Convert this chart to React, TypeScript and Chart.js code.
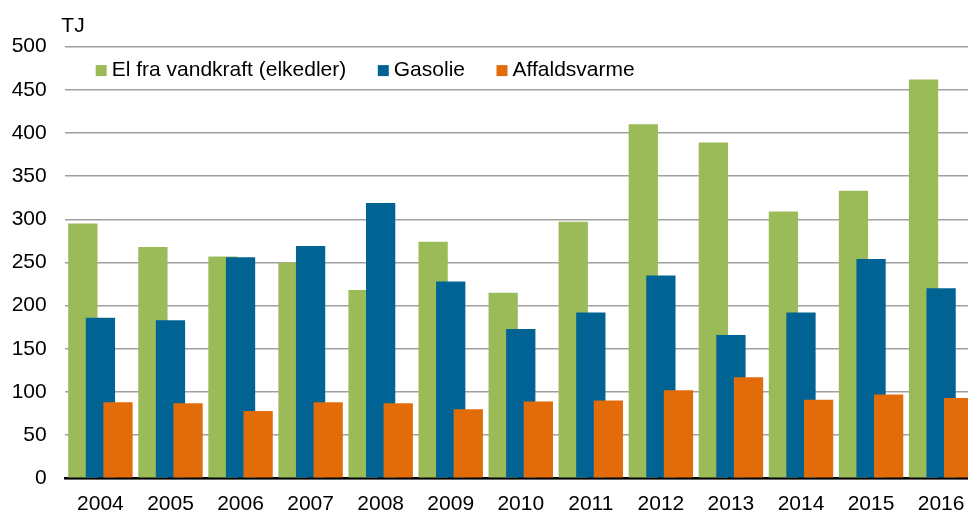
import React, { useEffect, useRef } from 'react';
import { Chart, registerables } from 'chart.js';

Chart.register(...registerables);

const years = ['2004', '2005', '2006', '2007', '2008', '2009', '2010', '2011', '2012', '2013', '2014', '2015', '2016'];
const elVandkraft = [295, 268, 257, 250, 218, 274, 215, 297, 410, 389, 309, 333, 462];
const gasolie = [186, 183, 256, 269, 319, 228, 173, 192, 235, 166, 192, 254, 220];
const affaldsvarme = [88, 87, 78, 88, 87, 80, 89, 90, 102, 117, 91, 97, 93];
const seriesLabels = ['El fra vandkraft (elkedler)', 'Gasolie', 'Affaldsvarme'];
const seriesColors = ['#9BBB59', '#006394', '#E36C0A'];
const unitLabel = 'TJ';
const yTickMax = 500;
const yTickStep = 50;

const FONT_FAMILY = '"Liberation Sans", Arial, sans-serif';
const FONT_SIZE = 21;

const drawOrderPlugin = {
  id: 'drawOrder',
  beforeDatasetDraw() {
    return false;
  },
  afterDatasetsDraw(chart: any) {
    chart.data.datasets.forEach((_: any, i: number) => {
      const meta = chart.getDatasetMeta(i);
      if (!meta.hidden) meta.controller.draw();
    });
  },
};

const insideLegendPlugin = {
  id: 'insideLegend',
  afterDraw(chart: any) {
    const { ctx, chartArea } = chart;
    ctx.save();
    ctx.font = `${FONT_SIZE}px ${FONT_FAMILY}`;
    ctx.textBaseline = 'middle';
    ctx.textAlign = 'left';
    let x = chartArea.left + 30.3;
    const y = chartArea.top + 24;
    chart.data.datasets.forEach((ds: any) => {
      ctx.fillStyle = ds.backgroundColor;
      ctx.fillRect(x, y - 5.5, 11, 11);
      ctx.fillStyle = '#000';
      ctx.fillText(ds.label, x + 16, y);
      x += 16 + ctx.measureText(ds.label).width + 31.5;
    });
    ctx.fillStyle = '#000';
    ctx.fillText(unitLabel, chartArea.left - 4.1, chartArea.top - 20);
    ctx.restore();
  },
};

export default function App() {
  const canvasRef = useRef<HTMLCanvasElement | null>(null);

  useEffect(() => {
    if (!canvasRef.current) return;
    const font = { family: FONT_FAMILY, size: FONT_SIZE };
    const chart = new Chart(canvasRef.current, {
      type: 'bar',
      data: {
        labels: years,
        datasets: [
          { label: seriesLabels[0], data: elVandkraft, backgroundColor: seriesColors[0], borderWidth: 0 },
          { label: seriesLabels[1], data: gasolie, backgroundColor: seriesColors[1], borderWidth: 0 },
          { label: seriesLabels[2], data: affaldsvarme, backgroundColor: seriesColors[2], borderWidth: 0 },
        ],
      },
      options: {
        responsive: false,
        animation: false,
        layout: { padding: { top: 46.6, right: 1, left: 0, bottom: 0 } },
        datasets: { bar: { categoryPercentage: 0.753, barPercentage: 1.665 } } as any,
        plugins: {
          legend: { display: false },
          tooltip: { enabled: false },
          title: { display: false },
        },
        scales: {
          x: {
            grid: { display: false, drawTicks: false },
            border: { display: true, color: '#000', width: 2.5 },
            ticks: { font, color: '#000', padding: 13.5, maxRotation: 0, autoSkip: false },
            afterFit: (s: any) => {
              s.height = 33.7;
            },
          },
          y: {
            min: 0,
            max: yTickMax,
            ticks: { stepSize: yTickStep, font, color: '#000', padding: 18.7 },
            grid: { color: '#a0a0a0', lineWidth: 1.5, drawTicks: false },
            border: { display: false },
            afterFit: (s: any) => {
              s.width = 65.4;
            },
          },
        },
      },
      plugins: [drawOrderPlugin, insideLegendPlugin],
    });
    return () => chart.destroy();
  }, []);

  return (
    <div
      style={{
        position: 'fixed',
        left: 0,
        top: 0,
        width: 968,
        height: 512,
        overflow: 'hidden',
        background: '#fff',
      }}
    >
      <canvas ref={canvasRef} width={978} height={512} style={{ display: 'block' }} />
    </div>
  );
}
